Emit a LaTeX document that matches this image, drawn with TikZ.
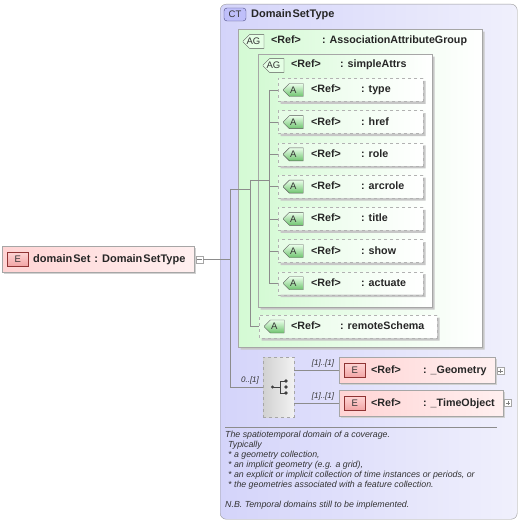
\documentclass[tikz,border=0pt]{standalone}
\usepackage{fontspec}
\setmainfont{Liberation Sans}
\usetikzlibrary{positioning,shapes.misc,shadows}
\definecolor{ctleft}{RGB}{212,212,250}
\definecolor{ctright}{RGB}{240,240,252}
\definecolor{agleft}{RGB}{212,250,212}
\definecolor{elleft}{RGB}{255,212,212}
\definecolor{elbadge}{RGB}{242,165,165}
\definecolor{abadge}{RGB}{110,195,110}
\definecolor{treegray}{RGB}{140,140,140}

\tikzset{
  shade box/.style={drop shadow={shadow xshift=2.5pt,shadow yshift=-2.5pt,fill=black!22,opacity=1}},
  chamfer/.style={chamfered rectangle,chamfered rectangle corners={north west,south west}},
  ctbox/.style={draw=black!40,rounded corners=6pt,left color=ctleft,right color=ctright,
    anchor=north west,inner sep=0pt},
  agbox/.style={chamfer,chamfered rectangle xsep=7pt,draw=black!35,left color=agleft,
    right color=white,shade box,anchor=north west,inner sep=0pt},
  attrbox/.style={chamfer,chamfered rectangle xsep=6pt,draw=black!30,dashed,
    left color=agleft!60,right color=white,shade box,anchor=west,inner sep=0pt,
    minimum width=145pt,minimum height=23pt},
  elbox/.style={draw=black!35,left color=elleft,right color=elleft!35,
    drop shadow={shadow xshift=2pt,shadow yshift=-2pt,fill=black!18,opacity=1},
    anchor=north west,inner sep=0pt,minimum height=26pt},
  badge/.style={font=\fontsize{9.5}{10}\selectfont,text=black!80,inner sep=0pt,
    minimum height=13pt},
  abadge/.style={badge,chamfer,chamfered rectangle xsep=3pt,draw=black!65,
    top color=green!8,bottom color=abadge,minimum width=20pt},
  agbadge/.style={badge,chamfer,chamfered rectangle xsep=3pt,draw=black!65,
    fill=green!10,minimum width=21pt},
  ebadge/.style={badge,rectangle,draw=red!45!black!80,top color=elleft,
    bottom color=elbadge,minimum width=21pt,minimum height=14pt},
  ctbadge/.style={badge,rectangle,rounded corners=3pt,draw=blue!30!black!70,
    fill=ctleft!90!blue,minimum width=22pt},
  reftext/.style={font=\fontsize{10.7}{12}\selectfont\bfseries,text=black!85,
    anchor=west,inner sep=0pt,text height=8pt,text depth=2pt},
  tree/.style={draw=treegray,line width=0.6pt},
  cardtext/.style={font=\fontsize{8}{9}\selectfont\itshape,text=black!80,inner sep=0pt},
  pmbox/.style={draw=black!35,fill=white,minimum size=7pt,inner sep=0pt}
}

\begin{document}
\begin{tikzpicture}[x=1pt,y=-1pt]
  \useasboundingbox (0,0) rectangle (521,521);
  % Root element
  \node[elbox,minimum width=192pt] (ds) at (2,246) {};
  \node[ebadge,right=5pt of ds.west] (dsbadge) {E};
  \node[reftext,font=\fontsize{11}{12}\selectfont\bfseries] (dstext) at (33,259.5)
    {domain\hspace{1pt}Set\hspace{4pt}:\hspace{4pt}Domain\hspace{1pt}SetType};
  \node[pmbox] (dsminus) at (199.5,259.5) {};
  \draw[black!50] ([xshift=1.5pt]dsminus.west) -- ([xshift=-1.5pt]dsminus.east);

  % Complex type
  \node[ctbox,minimum width=297pt,minimum height=515pt] (ct) at (220,4) {};
  \node[ctbadge] (ctbadge) at (235,14.5) {CT};
  \node[reftext,font=\fontsize{11}{12}\selectfont\bfseries] (cttext) at (251,14.5)
    {Domain\hspace{1pt}SetType};

  % Attribute groups
  \node[agbox,minimum width=244pt,minimum height=318pt] (ag1) at (238,29) {};
  \node[agbadge] (ag1badge) at (253.5,41.5) {AG};
  \node[reftext] at (271,41) {\textless Ref\textgreater};
  \node[reftext] at (322,41) {: AssociationAttributeGroup};
  \node[agbox,minimum width=174pt,minimum height=253pt] (ag2) at (258,54) {};
  \node[agbadge] (ag2badge) at (273.5,65.5) {AG};
  \node[reftext] at (291,65) {\textless Ref\textgreater};
  \node[reftext] at (340,65) {: simpleAttrs};

  % Tree lines
  \coordinate (bus1) at (230,189);
  \coordinate (bus2) at (250,180);
  \coordinate (bus3) at (269,180);

  % Attributes
  \foreach \n [count=\i from 0] in {type,href,role,arcrole,title,show,actuate} {
    \node[attrbox] (\n) at (278,{90+32.2*\i}) {};
    \node[abadge,right=5pt of \n.west] (\n badge) {A};
    \node[reftext] at (311,{90+32.2*\i}) {\textless Ref\textgreater};
    \node[reftext] at (361,{90+32.2*\i}) {: \n};
    \draw[tree] (\n.west) -- (\n.west -| bus3);
  }
  \node[attrbox,minimum width=178pt] (remote) at (259,326.5) {};
  \node[abadge,right=5pt of remote.west] (remotebadge) {A};
  \node[reftext] at (291,326.5) {\textless Ref\textgreater};
  \node[reftext] at (340,326.5) {: remoteSchema};

  % Sequence and elements
  \node[draw=black!35,dashed,left color=black!18,right color=black!5,anchor=north west,
    minimum width=31pt,minimum height=60pt,inner sep=0pt] (seq) at (263,357) {};
  \node[elbox,minimum width=156pt] (geo) at (339,357) {};
  \node[ebadge,right=5pt of geo.west] (geobadge) {E};
  \node[reftext] at (371,370) {\textless Ref\textgreater};
  \node[reftext] at (423,370) {: \_Geometry};
  \node[pmbox] (geoplus) at (500.5,371) {};
  \node[elbox,minimum width=164pt] (time) at (339,390) {};
  \node[ebadge,right=5pt of time.west] (timebadge) {E};
  \node[reftext] at (371,403) {\textless Ref\textgreater};
  \node[reftext] at (423,403) {: \_TimeObject};
  \node[pmbox] (timeplus) at (508,403) {};
  \foreach \p in {geoplus,timeplus}
    \draw[black!50] ([xshift=1.5pt]\p.west) -- ([xshift=-1.5pt]\p.east)
      ([yshift=-1.5pt]\p.north) -- ([yshift=1.5pt]\p.south);

  % Sequence icon
  \fill[black!75] (272.5,387) circle (1.6);
  \draw[black!75,line width=0.8pt] (272.5,387) -- (280,387) (280,381) -- (280,393)
    (280,381) -- (285,381) (280,393) -- (285,393);
  \foreach \y in {381,387,393}
    \fill[black!75] (286,\y) circle (1.9);

  % Connectors
  \draw[tree] (dsminus.east) -- (dsminus.east -| bus1);
  \draw[tree] (bus1) -- (bus1 |- seq.west) -- (seq.west);
  \draw[tree] (bus1) -- (bus1 -| bus2);
  \draw[tree] (bus2) -- (bus2 |- remote.west) -- (remote.west);
  \draw[tree] (bus2) -- (bus3);
  \draw[tree] (type.west -| bus3) -- (actuate.west -| bus3);
  \draw[tree] (seq.east |- geo.west) -- (geo.west);
  \draw[tree] (seq.east |- time.west) -- (time.west);
  \node[cardtext,anchor=south] at (250,384) {0..[1]};
  \node[cardtext,anchor=south] at (323,367) {[1]..[1]};
  \node[cardtext,anchor=south] at (323,400) {[1]..[1]};

  % Documentation
  \draw[black!45] (225,427) -- (497,427);
  \node[font=\fontsize{8.8}{10}\selectfont\itshape,text=black!80,anchor=north west,
    align=left,inner sep=0pt] (doc) at (225,431) {The spatiotemporal domain of a coverage.\\
    \hspace{3pt}Typically\\
    \hspace{3pt}* a geometry collection,\\
    \hspace{3pt}* an implicit geometry (e.g. a grid),\\
    \hspace{3pt}* an explicit or implicit collection of time instances or periods, or\\
    \hspace{3pt}* the geometries associated with a feature collection.\\[10pt]
    N.B. Temporal domains still to be implemented.};
\end{tikzpicture}
\end{document}
